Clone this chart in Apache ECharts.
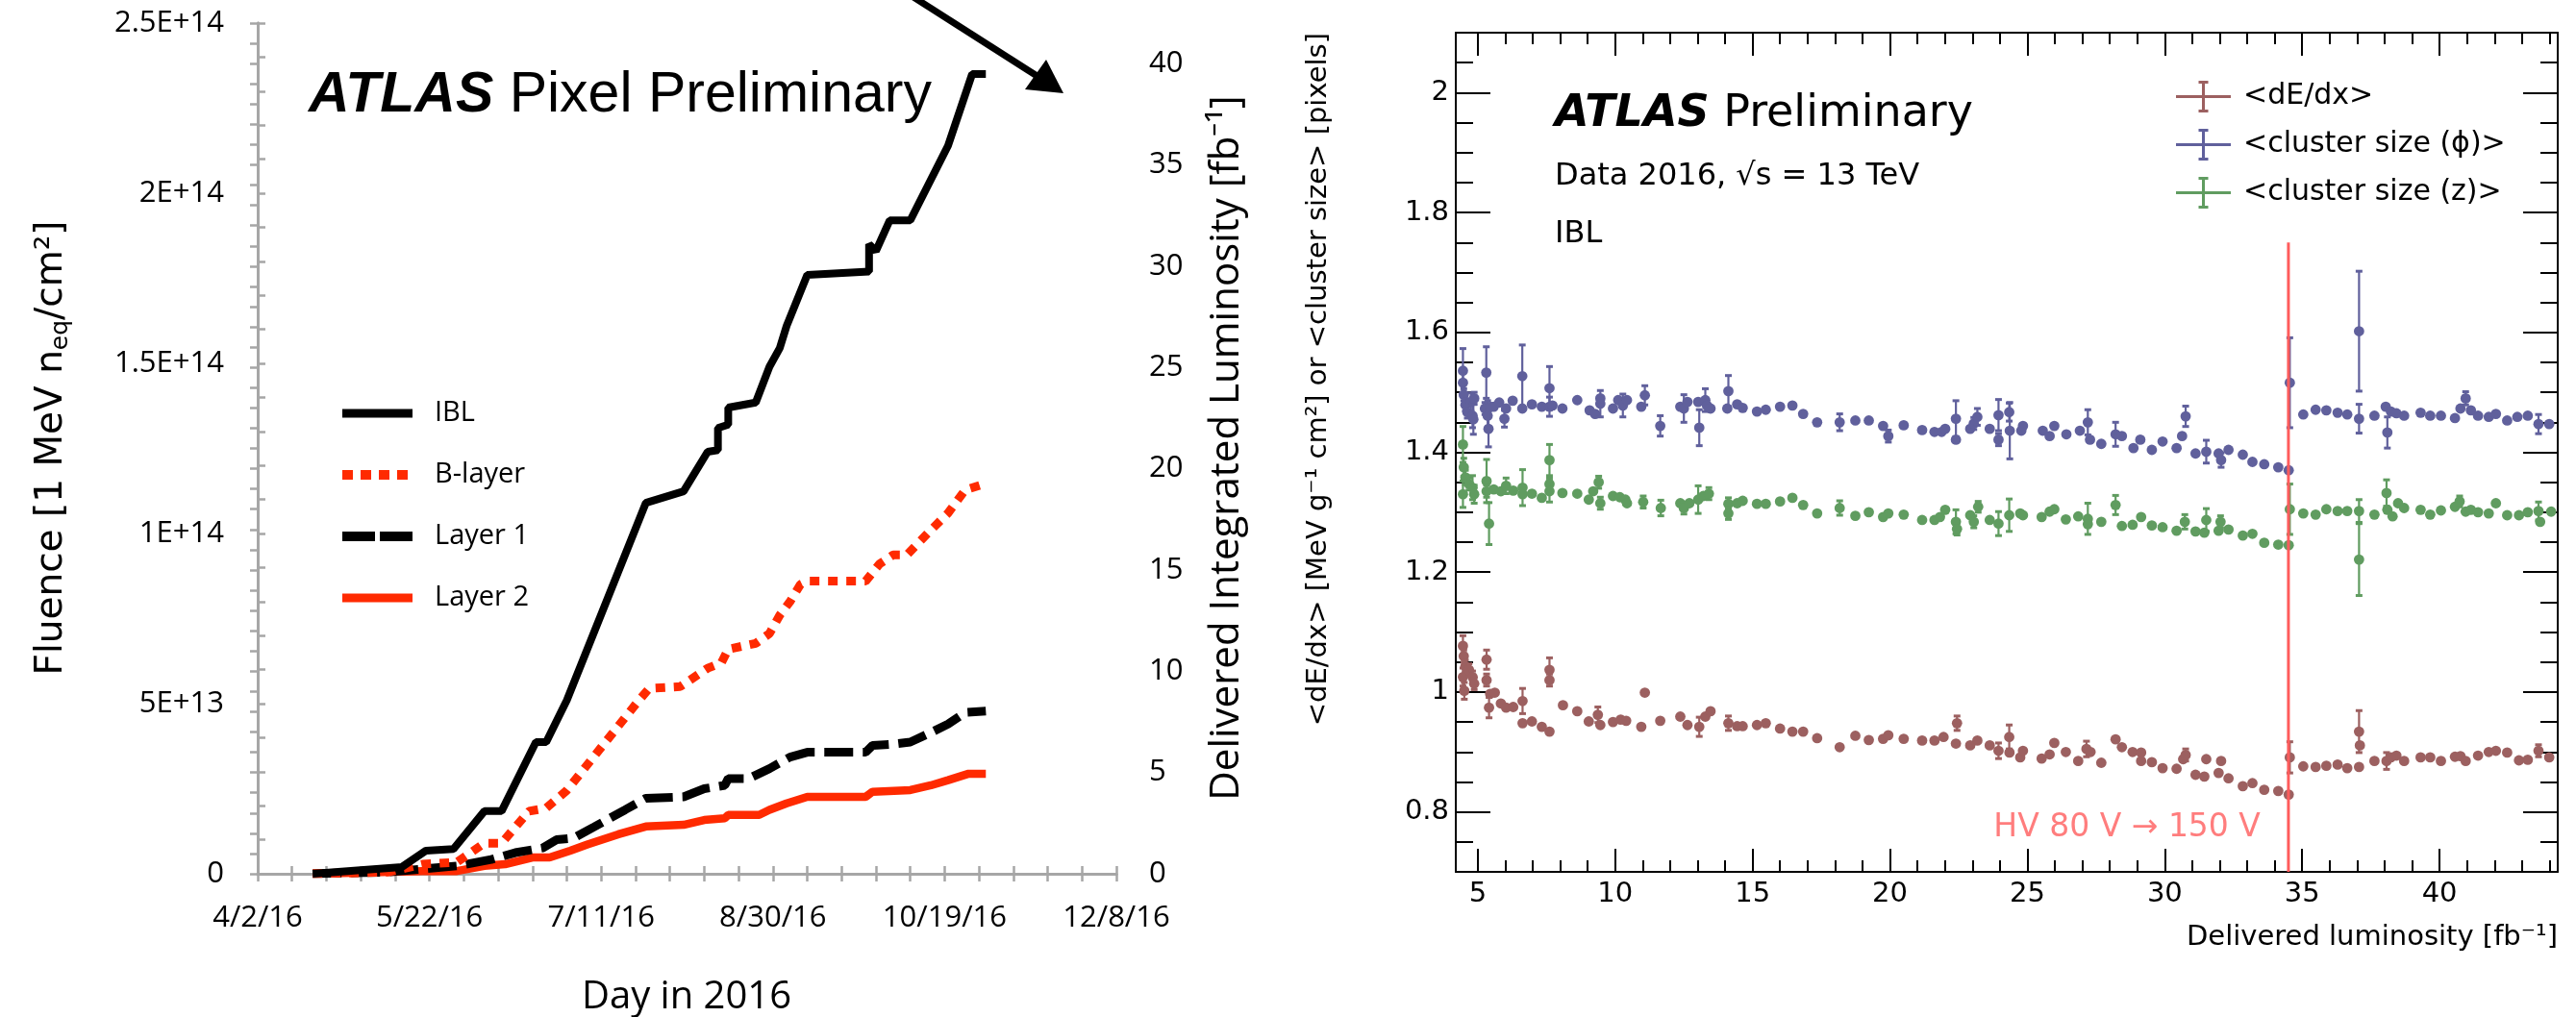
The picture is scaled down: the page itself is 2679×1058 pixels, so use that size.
<!DOCTYPE html>
<html><head><meta charset="utf-8">
<script src="https://cdn.jsdelivr.net/npm/echarts@6/dist/echarts.min.js"></script>
<style>html,body{margin:0;padding:0;background:#fff}#c{width:2679px;height:1058px}</style>
</head><body><div id="c"></div>
<script>
// ---------- LEFT PANEL DATA (fluence in units of 1E13 n_eq/cm2) ----------
const dayTickLabels = ['4/2/16','5/22/16','7/11/16','8/30/16','10/19/16','12/8/16'];
const fluenceTickLabels = ['0','5E+13','1E+14','1.5E+14','2E+14','2.5E+14'];
const lumiTickLabels = ['0','5','10','15','20','25','30','35','40'];

const iblDates = ['4/18','5/14','5/21','5/29','6/7','6/12','6/22','6/25','7/1','7/24','8/4','8/11','8/14','8/14','8/17','8/17','8/25','8/29','9/1','9/3','9/9','9/27','9/27','9/29','10/3','10/9','10/20','10/27','10/31'];
const iblFluence = [0,0.2,0.68,0.73,1.84,1.84,3.87,3.87,5.1,10.9,11.24,12.4,12.45,13.1,13.2,13.7,13.85,14.9,15.45,16.1,17.6,17.7,18.5,18.3,19.2,19.2,21.4,23.5,23.5];

const bLayerDates = ['4/18','5/10','5/20','5/30','6/7','6/12','6/20','6/25','7/1','7/22','7/25','8/3','8/11','8/15','8/17','8/25','8/29','9/1','9/4','9/7','9/9','9/26','9/30','10/4','10/8','10/15','10/20','10/25','10/31'];
const bLayerFluence = [0,0.05,0.28,0.34,0.9,0.9,1.84,1.93,2.45,5.1,5.45,5.5,6.04,6.2,6.6,6.77,7.06,7.6,8.0,8.5,8.6,8.6,9.1,9.37,9.37,10.1,10.6,11.28,11.47];

const layer1Dates = ['4/18','5/10','5/30','6/9','6/16','6/24','6/28','7/3','7/9','7/18','7/24','8/4','8/10','8/16','8/17','8/23','8/29','9/4','9/9','9/26','9/28','10/4','10/9','10/15','10/20','10/25','10/31'];
const layer1Fluence = [0,0.05,0.23,0.42,0.62,0.76,1.0,1.05,1.38,1.88,2.22,2.26,2.5,2.6,2.8,2.8,3.09,3.43,3.57,3.57,3.77,3.81,3.87,4.15,4.4,4.74,4.78];

const layer2Dates = ['4/18','5/20','5/30','6/7','6/13','6/21','6/26','7/2','7/7','7/16','7/24','8/4','8/10','8/16','8/17','8/26','8/29','9/3','9/9','9/26','9/28','10/9','10/15','10/20','10/26','10/31'];
const layer2Fluence = [0,0.08,0.08,0.23,0.28,0.48,0.48,0.68,0.86,1.16,1.39,1.44,1.58,1.63,1.73,1.73,1.88,2.07,2.26,2.26,2.41,2.46,2.6,2.75,2.94,2.94];

// ---------- RIGHT PANEL DATA: [delivered luminosity, mean, error] ----------
const lumiAxisLabels = ['5','10','15','20','25','30','35','40'];
const lumiMajorTicks = [5,10,15,20,25,30,35,40];
const meanAxisLabels = ['0.8','1','1.2','1.4','1.6','1.8','2'];
const meanMajorTicks = [0.8,1.0,1.2,1.4,1.6,1.8,2.0];
const hvLumi = 34.5, hvLineBottom = 0.7, hvLineTop = 1.75, hvLabelMean = 0.773;

const phiPoints = [[4.46,1.536,0.037],[4.46,1.516,0.02],[4.49,1.496,0.01],[4.55,1.479,0.01],[4.62,1.467,0.01],[4.75,1.484,0.015],[4.81,1.461,0.02],[4.87,1.49,0.01],[4.84,1.455,0.025],
[5.31,1.533,0.043],[5.26,1.473,0.01],[5.36,1.461,0.025],[5.39,1.439,0.03],[5.45,1.476,0.006],[5.58,1.476,0.006],[5.78,1.483,0.006],[5.97,1.456,0.014],[6.03,1.473,0.006],[6.27,1.486,0.006],[6.62,1.527,0.052],[6.62,1.473,0.006],[6.97,1.48,0.006],[7.33,1.476,0.006],[7.61,1.507,0.036],[7.61,1.476,0.016],[7.72,1.478,0.006],[8.08,1.473,0.004],[8.62,1.487,0.004],[9.07,1.47,0.006],[9.27,1.464,0.008],[9.46,1.481,0.022],[9.46,1.49,0.006],[9.92,1.473,0.006],[10.11,1.487,0.006],[10.28,1.478,0.019],[10.43,1.487,0.006],[10.95,1.476,0.006],[11.08,1.495,0.016],[11.64,1.444,0.017],[12.37,1.476,0.006],[12.5,1.473,0.023],[12.63,1.484,0.008],[13.02,1.484,0.006],[13.06,1.441,0.03],[13.28,1.487,0.019],[13.34,1.478,0.006],[13.47,1.473,0.008],[14.12,1.502,0.026],[14.08,1.473,0.006],[14.44,1.48,0.006],[14.64,1.474,0.006],[15.16,1.468,0.004],[15.48,1.471,0.004],[16.0,1.476,0.004],[16.45,1.478,0.004],[16.84,1.464,0.006],[17.35,1.45,0.004],[18.17,1.45,0.014],[18.74,1.453,0.004],[19.23,1.453,0.004],[19.75,1.444,0.006],[19.94,1.427,0.01],[20.5,1.445,0.004],[21.17,1.437,0.004],[21.62,1.434,0.006],[21.88,1.434,0.006],[22.01,1.439,0.006],[22.4,1.456,0.03],[22.4,1.421,0.006],[22.92,1.439,0.006],[23.05,1.448,0.01],[23.18,1.459,0.014],[23.63,1.439,0.006],[23.95,1.462,0.026],[23.95,1.421,0.01],[24.34,1.467,0.015],[24.36,1.436,0.047],
[24.78,1.436,0.006],[24.84,1.444,0.006],[25.56,1.436,0.006],[25.81,1.427,0.006],[25.98,1.444,0.006],[26.42,1.43,0.004],[26.91,1.436,0.004],[27.2,1.45,0.021],[27.28,1.421,0.006],[27.69,1.414,0.004],[28.21,1.43,0.02],[28.44,1.427,0.006],[28.86,1.407,0.006],[29.11,1.421,0.006],[29.53,1.404,0.004],[29.92,1.418,0.004],[30.43,1.407,0.004],[30.63,1.427,0.008],[30.76,1.46,0.017],[31.12,1.398,0.004],[31.51,1.401,0.019],[31.96,1.398,0.004],[32.05,1.387,0.012],[32.32,1.404,0.006],[32.84,1.396,0.004],[33.19,1.384,0.004],[33.62,1.38,0.004],[34.13,1.375,0.004],[34.51,1.37,0.006],[34.55,1.516,0.075],[35.04,1.463,0.004],[35.49,1.471,0.004],[35.88,1.47,0.004],[36.29,1.466,0.004],[36.64,1.463,0.004],[37.07,1.456,0.024],[37.07,1.602,0.1],[37.63,1.461,0.004],[38.04,1.476,0.006],[38.1,1.433,0.026],[38.23,1.468,0.006],[38.43,1.465,0.006],[38.71,1.461,0.004],[39.31,1.466,0.004],[39.66,1.461,0.004],[40.05,1.461,0.004],[40.56,1.457,0.006],[40.76,1.473,0.006],[40.95,1.49,0.011],[41.14,1.47,0.006],[41.4,1.461,0.004],[41.79,1.459,0.004],[42.05,1.464,0.006],[42.46,1.453,0.004],[42.83,1.459,0.004],[43.21,1.461,0.006],[43.6,1.447,0.016],[43.99,1.447,0.006]];

const zPoints = [[4.46,1.413,0.03],[4.49,1.375,0.015],[4.55,1.358,0.012],[4.68,1.347,0.01],[4.81,1.341,0.02],[4.46,1.33,0.022],[4.87,1.33,0.015],[5.32,1.352,0.036],[5.32,1.335,0.01],[5.41,1.281,0.035],[5.58,1.338,0.006],[5.84,1.335,0.006],[6.03,1.344,0.013],[6.29,1.336,0.006],[6.63,1.341,0.03],[6.63,1.33,0.006],[6.97,1.331,0.006],[7.33,1.324,0.006],[7.61,1.387,0.026],[7.61,1.347,0.01],[7.61,1.335,0.018],[8.08,1.332,0.004],[8.62,1.331,0.004],[9.04,1.321,0.006],[9.2,1.335,0.006],[9.4,1.35,0.01],[9.46,1.315,0.01],[9.92,1.327,0.006],[10.17,1.325,0.006],[10.37,1.321,0.006],[10.43,1.315,0.006],[11.02,1.317,0.01],[11.66,1.307,0.013],[12.37,1.315,0.006],[12.5,1.307,0.01],[12.7,1.315,0.006],[13.02,1.321,0.023],[13.21,1.327,0.006],[13.41,1.331,0.01],[14.12,1.314,0.01],[14.12,1.298,0.01],[14.44,1.315,0.006],[14.64,1.319,0.006],[15.16,1.314,0.004],[15.48,1.314,0.004],[16.0,1.318,0.004],[16.45,1.324,0.004],[16.84,1.312,0.004],[17.35,1.298,0.004],[18.17,1.307,0.012],[18.74,1.294,0.004],[19.23,1.3,0.004],[19.75,1.292,0.006],[19.94,1.298,0.006],[20.5,1.296,0.004],[21.17,1.287,0.004],[21.62,1.287,0.006],[21.82,1.292,0.006],[22.01,1.304,0.006],[22.4,1.284,0.02],[22.44,1.272,0.01],[22.92,1.295,0.006],[23.05,1.284,0.01],[23.21,1.309,0.009],[23.63,1.287,0.004],[23.95,1.281,0.02],[24.34,1.295,0.027],[24.74,1.298,0.006],[24.84,1.295,0.006],[25.52,1.292,0.004],[25.81,1.301,0.006],[25.98,1.305,0.006],[26.4,1.288,0.004],[26.85,1.293,0.006],[27.2,1.289,0.026],[27.2,1.28,0.006],[27.69,1.284,0.004],[28.21,1.312,0.016],[28.44,1.277,0.004],[28.83,1.279,0.006],[29.14,1.292,0.006],[29.53,1.278,0.004],[29.92,1.275,0.004],[30.43,1.269,0.004],[30.73,1.284,0.012],[31.12,1.268,0.004],[31.44,1.266,0.004],[31.51,1.287,0.019],[31.96,1.269,0.004],[32.03,1.284,0.01],[32.32,1.271,0.006],[32.84,1.261,0.004],[33.19,1.264,0.004],[33.62,1.249,0.004],[34.13,1.246,0.004],[34.51,1.245,0.006],[34.55,1.305,0.042],[35.04,1.298,0.004],[35.49,1.296,0.004],[35.88,1.305,0.004],[36.29,1.302,0.004],[36.64,1.302,0.004],[37.07,1.302,0.019],[37.07,1.221,0.06],[37.63,1.296,0.004],[38.07,1.332,0.022],[38.1,1.304,0.006],[38.29,1.293,0.006],[38.49,1.315,0.006],[38.71,1.307,0.004],[39.31,1.304,0.004],[39.66,1.296,0.004],[40.05,1.303,0.004],[40.56,1.309,0.004],[40.73,1.318,0.009],[40.95,1.301,0.004],[41.14,1.304,0.004],[41.4,1.3,0.004],[41.79,1.298,0.004],[42.05,1.315,0.004],[42.46,1.295,0.004],[42.89,1.295,0.004],[43.21,1.3,0.004],[43.6,1.302,0.015],[43.66,1.284,0.006],[44.06,1.301,0.004]];

const dedxPoints = [[4.46,1.077,0.017],[4.49,1.06,0.01],[4.46,1.025,0.015],[4.55,1.043,0.01],[4.68,1.037,0.01],[4.81,1.025,0.01],[4.87,1.014,0.01],[4.51,1.002,0.014],[5.32,1.054,0.016],[5.32,1.02,0.01],[5.45,0.997,0.006],[5.41,0.974,0.017],[5.62,0.999,0.006],[5.84,0.981,0.006],[6.03,0.974,0.006],[6.29,0.975,0.006],[6.63,0.985,0.021],[6.63,0.948,0.006],[6.97,0.951,0.004],[7.33,0.942,0.004],[7.61,0.934,0.006],[7.61,1.037,0.02],[7.61,1.02,0.01],[8.1,0.978,0.004],[8.62,0.968,0.004],[9.04,0.951,0.004],[9.37,0.962,0.013],[9.46,0.945,0.006],[9.92,0.95,0.006],[10.2,0.954,0.006],[10.4,0.952,0.006],[10.95,0.942,0.004],[11.08,0.999,0.008],[11.64,0.952,0.008],[12.37,0.959,0.006],[12.63,0.945,0.006],[13.06,0.942,0.016],[13.28,0.959,0.008],[13.47,0.968,0.006],[14.12,0.948,0.012],[14.44,0.943,0.004],[14.64,0.943,0.004],[15.16,0.945,0.004],[15.48,0.948,0.004],[16.0,0.939,0.004],[16.45,0.934,0.004],[16.84,0.934,0.004],[17.35,0.923,0.004],[18.17,0.908,0.008],[18.74,0.927,0.004],[19.23,0.92,0.004],[19.75,0.922,0.004],[19.94,0.928,0.006],[20.5,0.922,0.004],[21.17,0.919,0.004],[21.62,0.919,0.004],[21.95,0.925,0.006],[22.44,0.948,0.012],[22.4,0.914,0.004],[22.92,0.911,0.006],[23.18,0.919,0.006],[23.63,0.911,0.004],[23.95,0.902,0.013],[24.34,0.925,0.02],[24.35,0.899,0.006],[24.74,0.891,0.006],[24.84,0.902,0.006],[25.52,0.889,0.004],[25.81,0.896,0.004],[25.98,0.915,0.006],[26.4,0.9,0.004],[26.85,0.885,0.004],[27.15,0.905,0.013],[27.3,0.9,0.006],[27.69,0.882,0.004],[28.21,0.921,0.006],[28.44,0.908,0.006],[28.83,0.9,0.004],[29.14,0.899,0.006],[29.14,0.885,0.006],[29.53,0.883,0.004],[29.92,0.873,0.004],[30.43,0.872,0.004],[30.67,0.888,0.006],[30.76,0.895,0.01],[31.12,0.862,0.004],[31.44,0.859,0.004],[31.51,0.888,0.008],[31.96,0.865,0.004],[32.05,0.885,0.006],[32.32,0.856,0.004],[32.84,0.843,0.004],[33.19,0.848,0.004],[33.62,0.837,0.004],[34.13,0.835,0.004],[34.51,0.829,0.006],[34.55,0.891,0.026],[35.04,0.876,0.004],[35.49,0.875,0.004],[35.88,0.877,0.004],[36.29,0.879,0.004],[36.64,0.873,0.004],[37.07,0.875,0.004],[37.07,0.934,0.035],[37.1,0.911,0.008],[37.63,0.885,0.004],[38.07,0.885,0.014],[38.23,0.891,0.006],[38.43,0.894,0.006],[38.71,0.885,0.004],[39.31,0.891,0.004],[39.66,0.891,0.004],[40.05,0.885,0.004],[40.56,0.892,0.004],[40.76,0.893,0.004],[40.95,0.885,0.004],[41.4,0.894,0.004],[41.79,0.9,0.004],[42.05,0.902,0.004],[42.46,0.899,0.004],[42.89,0.886,0.004],[43.21,0.887,0.004],[43.6,0.902,0.01],[43.99,0.891,0.004]];

// ---------- helpers ----------
const DAY0 = Date.UTC(2016, 3, 2);
function dayIndex(md) { const p = md.split('/'); return (Date.UTC(2016, +p[0] - 1, +p[1]) - DAY0) / 86400000; }
function pairs(dates, vals) { return dates.map((d, i) => [dayIndex(d), vals[i]]); }
const lumiMinorTicks = []; for (let v = 5; v <= 44; v++) if (v % 5) lumiMinorTicks.push(v);
const meanMinorTicks = []; for (let k = 14; k <= 42; k++) if (k % 4) meanMinorTicks.push(+(k * 0.05).toFixed(2));

const GREY = '#a6a6a6';
const OS = '"Open Sans", sans-serif';
const DV = '"DejaVu Sans", sans-serif';
const RED = '#ff2a00';
const C_DEDX = '#9c6060', C_PHI = '#60609c', C_Z = '#609c60', C_HV = '#ff5c5c';

function errorBarItem(params, api) {
  const x = api.value(0), y = api.value(1), e = api.value(2);
  const c = api.coord([x, y]);
  const hi = api.coord([x, y + e]);
  const lo = api.coord([x, y - e]);
  const color = api.visual('color');
  const ch = [];
  if (lo[1] - hi[1] > 11) {
    ch.push({ type: 'line', shape: { x1: c[0], y1: hi[1], x2: c[0], y2: lo[1] }, style: { stroke: color, lineWidth: 2.2 } });
    ch.push({ type: 'line', shape: { x1: c[0] - 3.5, y1: hi[1], x2: c[0] + 3.5, y2: hi[1] }, style: { stroke: color, lineWidth: 3 } });
    ch.push({ type: 'line', shape: { x1: c[0] - 3.5, y1: lo[1], x2: c[0] + 3.5, y2: lo[1] }, style: { stroke: color, lineWidth: 3 } });
  }
  ch.push({ type: 'circle', shape: { cx: c[0], cy: c[1], r: 5.4 }, style: { fill: color } });
  return { type: 'group', children: ch };
}

function leftXAxis(pos, labels) {
  return { gridIndex: 0, type: 'value', position: pos, min: 0, max: 250, interval: 10,
    axisLine: { show: true, lineStyle: { color: GREY, width: 3 } },
    axisTick: { show: true, inside: true, length: 8, lineStyle: { color: GREY, width: 2.5 } },
    axisLabel: { show: labels, margin: 31, color: '#000', fontFamily: OS, fontSize: 31, hideOverlap: false,
      formatter: v => (Math.round(v) % 50 === 0 ? dayTickLabels[Math.round(v) / 50] : '') },
    splitLine: { show: false } };
}
function rightXAxis(pos, major, labels) {
  return { gridIndex: 1, type: 'value', position: pos, min: 4.2, max: 44.3,
    axisLine: { show: major, lineStyle: { color: '#000', width: 2 } },
    axisTick: { show: true, inside: true, length: major ? 24 : 12, customValues: major ? lumiMajorTicks : lumiMinorTicks, lineStyle: { color: '#000', width: 2 } },
    axisLabel: { show: labels, customValues: lumiMajorTicks, margin: 9, color: '#000', fontFamily: DV, fontSize: 29, hideOverlap: false,
      formatter: v => lumiAxisLabels[lumiMajorTicks.indexOf(Math.round(v))] || '' },
    splitLine: { show: false } };
}
function rightYAxis(pos, major, labels) {
  return { gridIndex: 1, type: 'value', position: pos, min: 0.7, max: 2.1,
    axisLine: { show: major, lineStyle: { color: '#000', width: 2 } },
    axisTick: { show: true, inside: true, length: major ? 36 : 18, customValues: major ? meanMajorTicks : meanMinorTicks, lineStyle: { color: '#000', width: 2 } },
    axisLabel: { show: labels, customValues: meanMajorTicks, margin: 7, color: '#000', fontFamily: DV, fontSize: 29, hideOverlap: false,
      formatter: v => { const i = meanMajorTicks.findIndex(t => Math.abs(t - v) < 1e-6); return i >= 0 ? meanAxisLabels[i] : ''; } },
    splitLine: { show: false } };
}

const errIcon = 'path://M0,15H57V18H0Z M27,0H30V33H27Z M23.5,0H33.5V3H23.5Z M23.5,30H33.5V33H23.5Z';
// legend line samples (box 73 x 30, with corner anchors)
const solidIcon = 'path://M0,0L0,0Z M73,30L73,30Z M0,10.5H73V19.5H0Z';
const dotIcon = 'path://M0,0L0,0Z M73,30L73,30Z M0,10H11V20H0Z M19,10H30V20H19Z M38,10H49V20H38Z M57,10H68V20H57Z';
const dashIcon = 'path://M0,0L0,0Z M73,30L73,30Z M0,10H34V20H0Z M39,10H73V20H39Z';

const option = {
  animation: false,
  backgroundColor: '#fff',
  grid: [
    { left: 268, top: 24, width: 893, height: 885, containLabel: false, outerBoundsMode: 'none' },
    { left: 1514, top: 34, width: 1146, height: 873, containLabel: false, outerBoundsMode: 'none' }
  ],
  xAxis: [
    leftXAxis('bottom', true), leftXAxis('top', false),
    rightXAxis('bottom', true, true), rightXAxis('bottom', false, false),
    rightXAxis('top', true, false), rightXAxis('top', false, false)
  ],
  yAxis: [
    { gridIndex: 0, type: 'value', position: 'left', min: 0, max: 25, interval: 1,
      axisLine: { show: true, lineStyle: { color: GREY, width: 3 } },
      axisTick: { show: true, inside: true, length: 8, lineStyle: { color: GREY, width: 2.5 } },
      axisLabel: { margin: 35, color: '#000', fontFamily: OS, fontSize: 31, hideOverlap: false,
        formatter: v => (Math.round(v) % 5 === 0 ? fluenceTickLabels[Math.round(v) / 5] : '') },
      splitLine: { show: false } },
    { gridIndex: 0, type: 'value', position: 'right', min: 0, max: 42, interval: 1,
      axisLine: { show: true, lineStyle: { color: GREY, width: 3 } },
      axisTick: { show: true, inside: true, length: 8, lineStyle: { color: GREY, width: 2.5 } },
      axisLabel: { margin: 34, color: '#000', fontFamily: OS, fontSize: 31, hideOverlap: false,
        formatter: v => (Math.round(v) % 5 === 0 ? lumiTickLabels[Math.round(v) / 5] : '') },
      splitLine: { show: false } },
    rightYAxis('left', true, true), rightYAxis('left', false, false),
    rightYAxis('right', true, false), rightYAxis('right', false, false)
  ],
  legend: [
    { orient: 'vertical', left: 356, top: 415, padding: 0, itemWidth: 73, itemHeight: 30, itemGap: 34, selectedMode: false,
      data: [{ name: 'IBL', icon: solidIcon }, { name: 'B-layer', icon: dotIcon }, { name: 'Layer 1', icon: dashIcon }, { name: 'Layer 2', icon: solidIcon }],
      textStyle: { fontFamily: OS, fontSize: 29, color: '#000', padding: [0, 0, 0, 18] } },
    { orient: 'vertical', left: 2263, top: 84, padding: 0, itemWidth: 57, itemHeight: 33, itemGap: 17, selectedMode: false,
      data: [{ name: '<dE/dx>', icon: errIcon }, { name: '<cluster size (ϕ)>', icon: errIcon }, { name: '<cluster size (z)>', icon: errIcon }],
      textStyle: { fontFamily: DV, fontSize: 30, color: '#000', padding: [0, 0, 0, 8] } }
  ],
  series: [
    { name: 'Layer 2', type: 'line', xAxisIndex: 0, yAxisIndex: 0, symbol: 'none', z: 2,
      data: pairs(layer2Dates, layer2Fluence), color: RED, itemStyle: { color: RED }, lineStyle: { color: RED, width: 8.5 } },
    { name: 'Layer 1', type: 'line', xAxisIndex: 0, yAxisIndex: 0, symbol: 'none', z: 3,
      data: pairs(layer1Dates, layer1Fluence), color: '#000', itemStyle: { color: '#000' }, lineStyle: { color: '#000', width: 9, type: [30, 10] } },
    { name: 'B-layer', type: 'line', xAxisIndex: 0, yAxisIndex: 0, symbol: 'none', z: 4,
      data: pairs(bLayerDates, bLayerFluence), color: RED, itemStyle: { color: RED }, lineStyle: { color: RED, width: 9, type: [10, 9] } },
    { name: 'IBL', type: 'line', xAxisIndex: 0, yAxisIndex: 0, symbol: 'none', z: 5,
      data: pairs(iblDates, iblFluence), color: '#000', itemStyle: { color: '#000' }, lineStyle: { color: '#000', width: 8 } },

    { name: '<dE/dx>', type: 'custom', xAxisIndex: 2, yAxisIndex: 2, renderItem: errorBarItem, encode: { x: 0, y: 1 },
      data: dedxPoints, itemStyle: { color: C_DEDX }, color: C_DEDX },
    { name: '<cluster size (ϕ)>', type: 'custom', xAxisIndex: 2, yAxisIndex: 2, renderItem: errorBarItem, encode: { x: 0, y: 1 },
      data: phiPoints, itemStyle: { color: C_PHI }, color: C_PHI },
    { name: '<cluster size (z)>', type: 'custom', xAxisIndex: 2, yAxisIndex: 2, renderItem: errorBarItem, encode: { x: 0, y: 1 },
      data: zPoints, itemStyle: { color: C_Z }, color: C_Z },
    { name: 'HV', type: 'line', xAxisIndex: 2, yAxisIndex: 2, symbol: 'none', z: 6,
      data: [[hvLumi, hvLineBottom], [hvLumi, hvLineTop]], lineStyle: { color: C_HV, width: 3 } },
    { name: 'HVlabel', type: 'scatter', xAxisIndex: 2, yAxisIndex: 2, symbolSize: 0, z: 6,
      data: [[hvLumi, hvLabelMean]],
      label: { show: true, position: 'left', distance: 29, formatter: 'HV 80 V → 150 V', color: C_HV, fontFamily: DV, fontSize: 33 } }
  ],
  graphic: [
    // arrow in left panel
    { type: 'polyline', shape: { points: [[950, -3], [1080, 80]] }, style: { stroke: '#000', lineWidth: 7, fill: null } },
    { type: 'polygon', shape: { points: [[1106, 97], [1066, 93], [1088, 62]] }, style: { fill: '#000' } },
    { type: 'text', x: 321, y: 100, style: { text: '{b|ATLAS}{n| Pixel Preliminary}', verticalAlign: 'middle',
      rich: { b: { fontFamily: '"Liberation Sans", Arial', fontWeight: 'bold', fontStyle: 'italic', fontSize: 59, fill: '#000' },
              n: { fontFamily: '"Liberation Sans", Arial', fontSize: 59, fill: '#000' } } } },
    { type: 'text', x: 54, y: 466, rotation: Math.PI / 2, style: { text: '{t|Fluence [1 MeV n}{s|eq}{t|/cm²]}', align: 'center', verticalAlign: 'middle',
      rich: { t: { fontFamily: DV, fontSize: 39, fill: '#000' }, s: { fontFamily: DV, fontSize: 25, fill: '#000', padding: [18, 0, 0, 0] } } } },
    { type: 'text', x: 1276, y: 466, rotation: Math.PI / 2, style: { text: 'Delivered Integrated Luminosity [fb⁻¹]', align: 'center', verticalAlign: 'middle',
      fontFamily: OS, fontSize: 42, fill: '#000' } },
    { type: 'text', x: 714, y: 1038, style: { text: 'Day in 2016', align: 'center', verticalAlign: 'middle', fontFamily: OS, fontSize: 40, fill: '#000' } },
    // right panel texts
    { type: 'text', x: 1617, y: 119, style: { text: '{b|ATLAS}{n| Preliminary}', verticalAlign: 'middle',
      rich: { b: { fontFamily: DV, fontWeight: 'bold', fontStyle: 'italic', fontSize: 46, fill: '#000' },
              n: { fontFamily: DV, fontSize: 46, fill: '#000' } } } },
    { type: 'text', x: 1617, y: 184, style: { text: 'Data 2016, √s = 13 TeV', verticalAlign: 'middle', fontFamily: DV, fontSize: 32, fill: '#000' } },
    { type: 'text', x: 1617, y: 244, style: { text: 'IBL', verticalAlign: 'middle', fontFamily: DV, fontSize: 32, fill: '#000' } },
    { type: 'text', x: 1371, y: 34, rotation: Math.PI / 2, style: { text: '<dE/dx> [MeV g⁻¹ cm²] or <cluster size> [pixels]', align: 'right', verticalAlign: 'middle',
      fontFamily: DV, fontSize: 29, fill: '#000' } },
    { type: 'text', x: 2660, y: 975, style: { text: 'Delivered luminosity [fb⁻¹]', align: 'right', verticalAlign: 'middle', fontFamily: DV, fontSize: 29, fill: '#000' } }
  ]
};

const chart = echarts.init(document.getElementById('c'), null, { renderer: 'canvas', width: 2679, height: 1058 });
chart.setOption(option);
</script>
</body></html>
